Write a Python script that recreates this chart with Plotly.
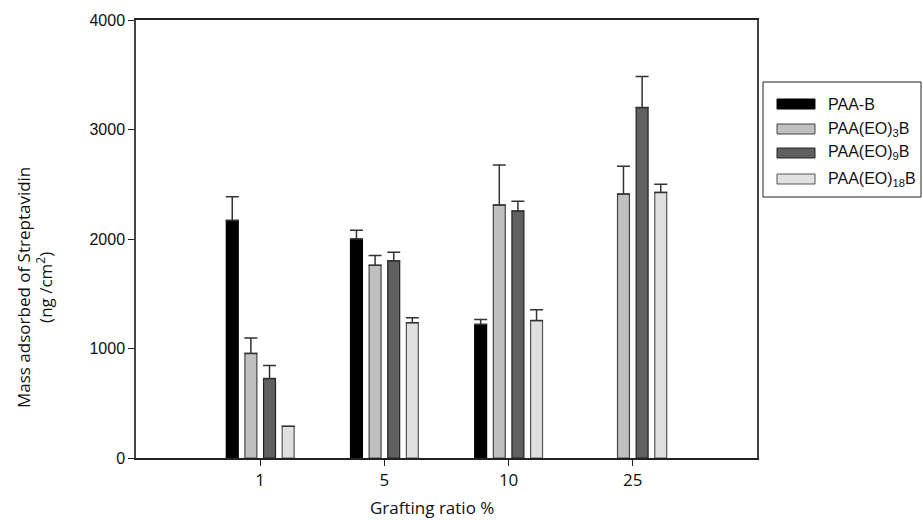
import plotly.graph_objects as go

categories = ["1", "5", "10", "25"]
series_names = ["PAA-B", "PAA(EO)<sub>3</sub>B", "PAA(EO)<sub>9</sub>B", "PAA(EO)<sub>18</sub>B"]
paa_b = [2170, 2000, 1220, None]
paa_eo3 = [955, 1760, 2310, 2410]
paa_eo9 = [725, 1800, 2255, 3200]
paa_eo18 = [290, 1235, 1255, 2425]
err_paa_b = [215, 80, 45, 0]
err_paa_eo3 = [140, 90, 365, 255]
err_paa_eo9 = [120, 80, 90, 285]
err_paa_eo18 = [0, 45, 100, 75]
y_ticks = [0, 1000, 2000, 3000, 4000]

values = [paa_b, paa_eo3, paa_eo9, paa_eo18]
errors = [err_paa_b, err_paa_eo3, err_paa_eo9, err_paa_eo18]
colors = ["#000000", "#c0c0c0", "#606060", "#e0e0e0"]
edges = ["#000000", "#444444", "#222222", "#555555"]

fig = go.Figure()
for name, vals, errs, col, edge in zip(series_names, values, errors, colors, edges):
    fig.add_trace(go.Bar(
        x=categories, y=vals, name=name,
        marker=dict(color=col, line=dict(color=edge, width=1.2)),
        error_y=dict(type="data", symmetric=False, array=errs,
                     arrayminus=[0] * len(errs), color="#333333",
                     thickness=1.5, width=6.5, visible=True),
        showlegend=False,
    ))

fig.update_layout(
    width=923, height=520,
    margin=dict(l=136, r=166, t=20, b=62),
    paper_bgcolor="white", plot_bgcolor="white",
    barmode="group", bargap=0.4, bargroupgap=0.36,
    font=dict(family="Liberation Sans, Arial", size=16, color="#111111"),
)
fig.update_xaxes(
    type="category", range=[-1, 4],
    showline=True, linecolor="#222222", linewidth=1.5, mirror=True,
    ticks="outside", ticklen=6, tickcolor="#222222", tickwidth=1,
    tickfont=dict(family="Open Sans", size=17),
    showgrid=False, zeroline=False,
)
fig.update_yaxes(
    range=[0, 4000], tickvals=y_ticks,
    showline=True, linecolor="#444444", linewidth=1.5, mirror=True,
    ticks="outside", ticklen=6, tickcolor="#222222", tickwidth=1,
    tickfont=dict(family="Liberation Sans, Arial", size=16),
    showgrid=False, zeroline=False,
)

def px_x(px):
    return (px - 136) / 621

def px_y(py):
    return (458 - py) / 438

# axis titles
fig.add_annotation(xref="paper", yref="paper", x=px_x(432), y=px_y(507),
                   text="Grafting ratio %", showarrow=False, xanchor="center", yanchor="middle",
                   font=dict(family="Open Sans", size=17))
fig.add_annotation(xref="paper", yref="paper", x=px_x(34), y=px_y(288),
                   text="Mass adsorbed of Streptavidin<br>(ng /cm<sup>2</sup>)", showarrow=False,
                   textangle=-90, xanchor="center", yanchor="middle",
                   font=dict(family="Open Sans", size=17))

# legend drawn manually
fig.add_shape(type="rect", xref="paper", yref="paper",
              x0=px_x(763), x1=px_x(921), y0=px_y(197), y1=px_y(82),
              line=dict(color="#222222", width=1), fillcolor="white")
leg_y = [104, 129, 153, 179]
for name, col, edge, ly in zip(series_names, colors, edges, leg_y):
    fig.add_shape(type="rect", xref="paper", yref="paper",
                  x0=px_x(777), x1=px_x(815), y0=px_y(ly + 5), y1=px_y(ly - 5),
                  line=dict(color=edge, width=1), fillcolor=col)
    fig.add_annotation(xref="paper", yref="paper", x=px_x(826), y=px_y(ly),
                       text=name, showarrow=False, xanchor="left", yanchor="middle",
                       font=dict(family="Liberation Sans, Arial", size=16))

fig.write_html("out.html", config={"displayModeBar": False},
               post_script="document.body.style.margin='0';")
